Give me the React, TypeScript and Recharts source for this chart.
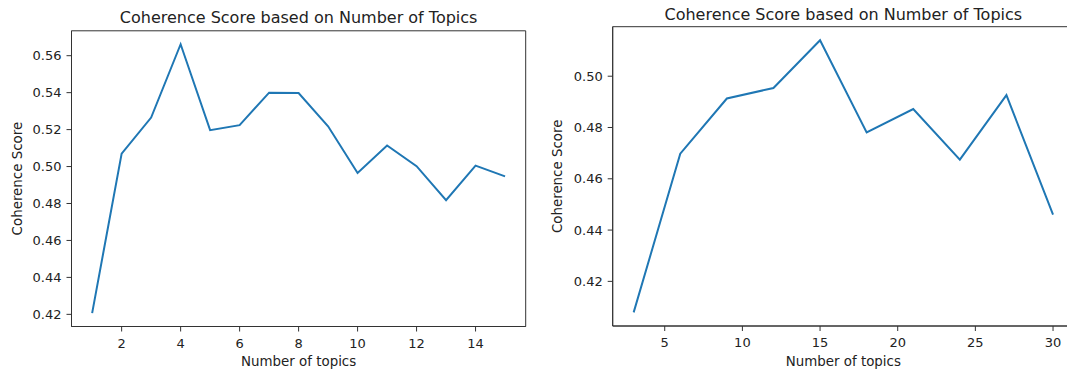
import { Line, LineChart, ReferenceArea, XAxis, YAxis } from "recharts"

// left panel: topics 1..15
const leftTopics = [1, 2, 3, 4, 5, 6, 7, 8, 9, 10, 11, 12, 13, 14, 15]
const leftScores = [0.4207, 0.507, 0.5265, 0.5662, 0.5197, 0.5224, 0.54, 0.5398, 0.5218, 0.4965, 0.5114, 0.5002, 0.4818, 0.5005, 0.4947]
const leftXTicks = [2, 4, 6, 8, 10, 12, 14]
const leftYTicks = [0.42, 0.44, 0.46, 0.48, 0.5, 0.52, 0.54, 0.56]

// right panel: topics 3..30 step 3
const rightTopics = [3, 6, 9, 12, 15, 18, 21, 24, 27, 30]
const rightScores = [0.4079, 0.4698, 0.4913, 0.4954, 0.514, 0.4781, 0.4872, 0.4675, 0.4926, 0.446]
const rightXTicks = [5, 10, 15, 20, 25, 30]
const rightYTicks = [0.42, 0.44, 0.46, 0.48, 0.5]

const titleText = "Coherence Score based on Number of Topics"
const xLabel = "Number of topics"
const yLabel = "Coherence Score"

const FONT = "DejaVu Sans, sans-serif"
const TEXT = "#222222"
const SPINE = "#333333"
const LINE = "#1f77b4"

// matplotlib-style 5% margins
const pad = (vals: number[]): [number, number] => {
    const lo = Math.min(...vals)
    const hi = Math.max(...vals)
    const m = (hi - lo) * 0.05
    return [lo - m, hi + m]
}

const leftData = leftTopics.map((t, i) => ({ topics: t, score: leftScores[i] }))
const rightData = rightTopics.map((t, i) => ({ topics: t, score: rightScores[i] }))

const tickStyle = { fill: TEXT, fontSize: 13, fontFamily: FONT }

function Panel({ data, xTicks, yTicks, xDomain, yDomain, margin, yWidth, xHeight }: any) {
    return (
        <LineChart width={540} height={373} data={data} margin={margin}>
            <XAxis
                type="number"
                dataKey="topics"
                domain={xDomain}
                ticks={xTicks}
                allowDataOverflow
                height={xHeight}
                tick={tickStyle}
                tickSize={5}
                tickMargin={7}
                axisLine={{ stroke: SPINE }}
                tickLine={{ stroke: SPINE }}
            />
            <YAxis
                type="number"
                domain={yDomain}
                ticks={yTicks}
                allowDataOverflow
                width={yWidth}
                tick={tickStyle}
                tickSize={5}
                tickMargin={5}
                tickFormatter={(v: number) => v.toFixed(2)}
                axisLine={{ stroke: SPINE }}
                tickLine={{ stroke: SPINE }}
            />
            {/* box around the plot area, like matplotlib spines */}
            <ReferenceArea
                x1={xDomain[0]}
                x2={xDomain[1]}
                y1={yDomain[0]}
                y2={yDomain[1]}
                fill="none"
                fillOpacity={0}
                stroke={SPINE}
                strokeWidth={1}
                ifOverflow="visible"
            />
            <Line type="linear" dataKey="score" stroke={LINE} strokeWidth={2} dot={false} activeDot={false} isAnimationActive={false} />
        </LineChart>
    )
}

export default function App() {
    return (
        <div style={{ position: "absolute", left: 0, top: 0, width: 1067, height: 373, overflow: "hidden", background: "#fff" }}>
            <div style={{ position: "absolute", left: 0, top: 0 }}>
                <Panel
                    data={leftData}
                    xTicks={leftXTicks}
                    yTicks={leftYTicks}
                    xDomain={[0.3, 15.7]}
                    yDomain={pad(leftScores)}
                    margin={{ top: 30.8, right: 14.3, bottom: 0, left: 0 }}
                    yWidth={71.5}
                    xHeight={46.5}
                />
            </div>
            <div style={{ position: "absolute", left: 540, top: 0 }}>
                <Panel
                    data={rightData}
                    xTicks={rightXTicks}
                    yTicks={rightYTicks}
                    xDomain={[1.65, 31.35]}
                    yDomain={pad(rightScores)}
                    margin={{ top: 26.7, right: 6, bottom: 0, left: 0 }}
                    yWidth={72.7}
                    xHeight={47}
                />
            </div>
            <svg width={1067} height={373} style={{ position: "absolute", left: 0, top: 0, pointerEvents: "none" }}>
                <g fill={TEXT} fontFamily={FONT}>
                    <text x={298.6} y={23.4} fontSize={16} textAnchor="middle">{titleText}</text>
                    <text x={843.3} y={20} fontSize={16} textAnchor="middle">{titleText}</text>
                    <text x={298.6} y={366.4} fontSize={13.4} textAnchor="middle">{xLabel}</text>
                    <text x={843.3} y={366.4} fontSize={13.4} textAnchor="middle">{xLabel}</text>
                    <text x={17.5} y={178.6} fontSize={13.4} textAnchor="middle" dominantBaseline="central" transform="rotate(-90 17.5 178.6)">{yLabel}</text>
                    <text x={557.5} y={176.3} fontSize={13.4} textAnchor="middle" dominantBaseline="central" transform="rotate(-90 557.5 176.3)">{yLabel}</text>
                </g>
            </svg>
        </div>
    )
}
